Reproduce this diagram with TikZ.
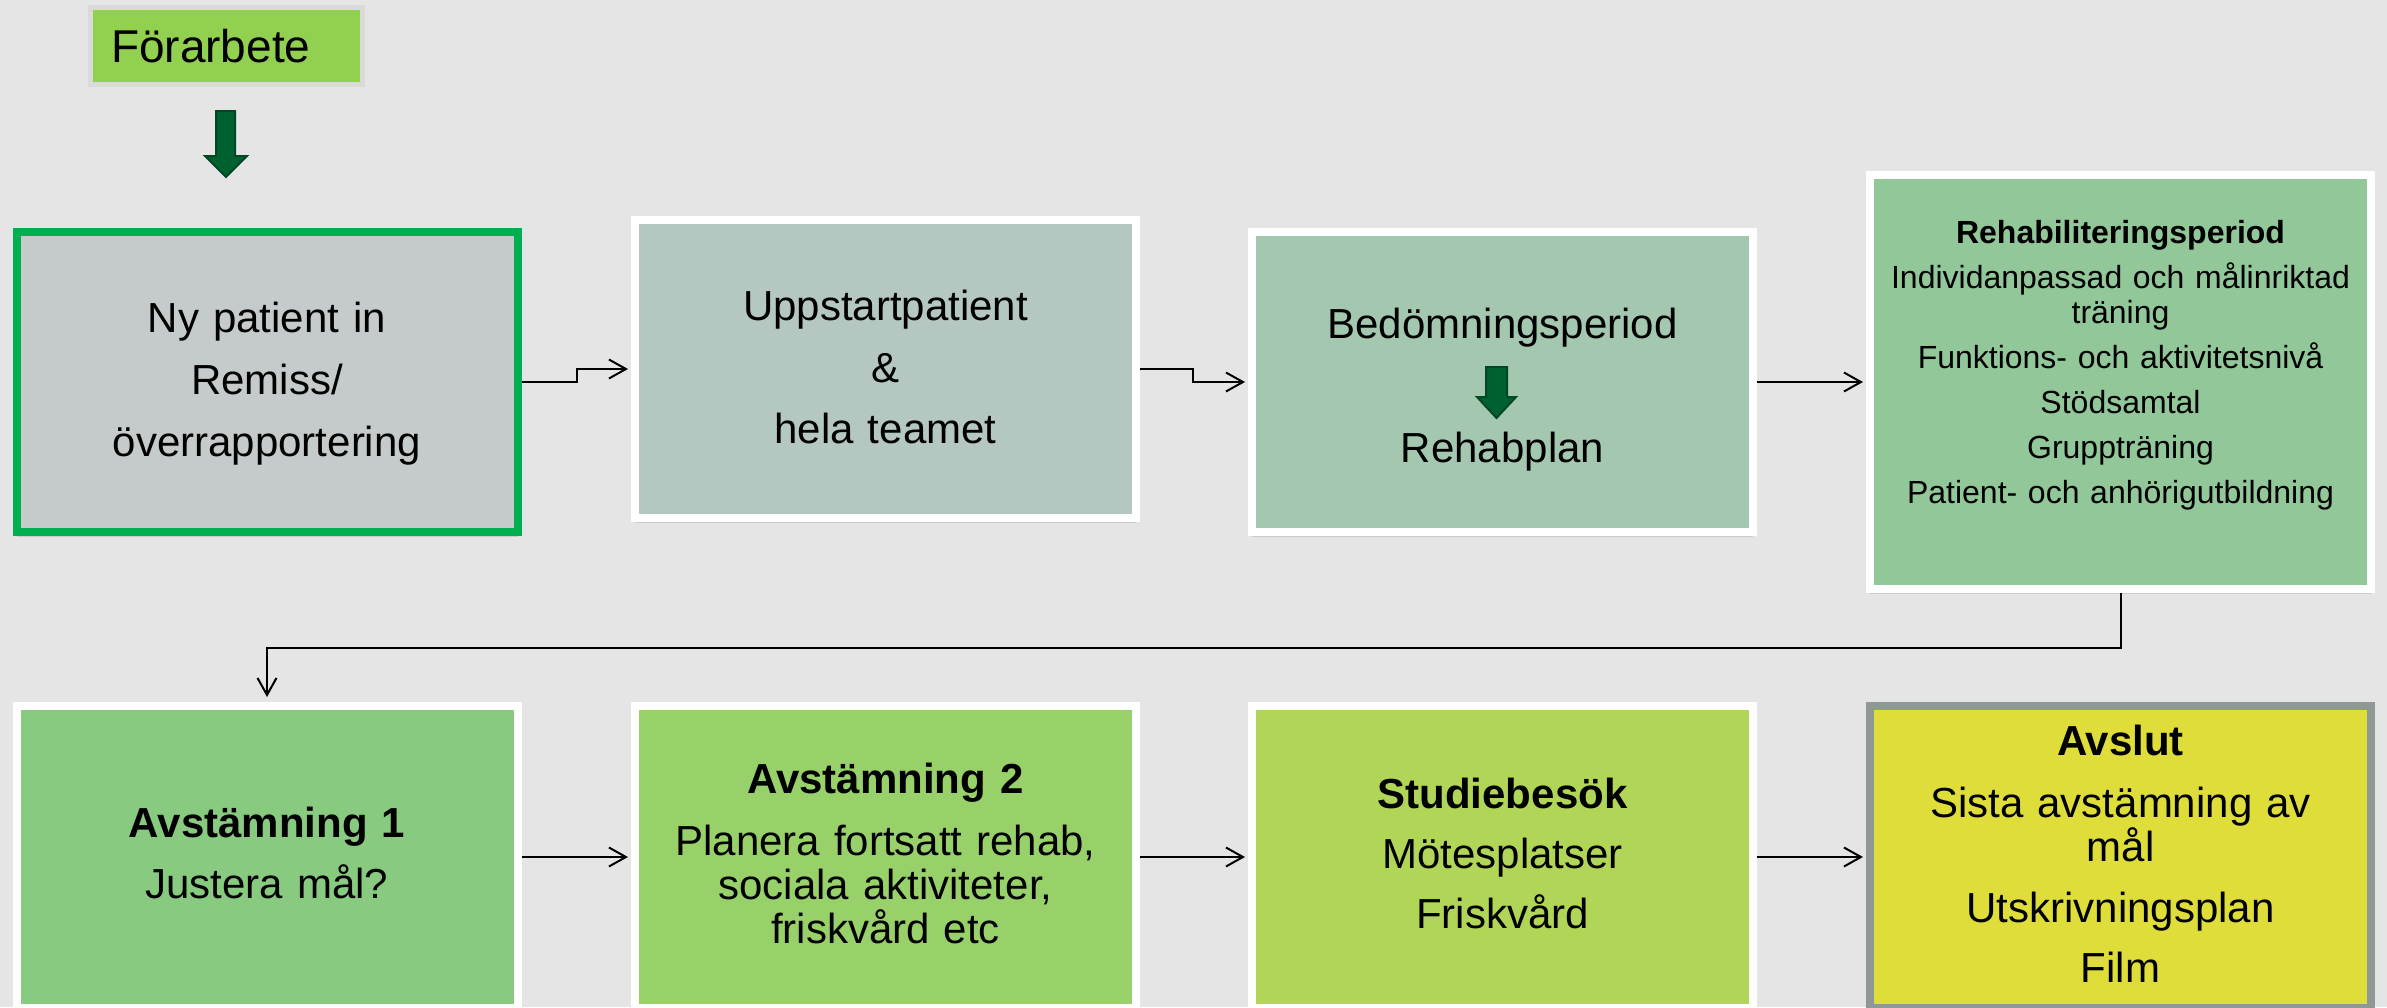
\documentclass[tikz,border=0pt]{standalone}
\usepackage{fontspec}
\setmainfont{Liberation Sans}
\usetikzlibrary{arrows.meta,shadows,calc}
\definecolor{bg}{RGB}{229,229,229}
\definecolor{c0}{RGB}{146,208,80}
\definecolor{c0frame}{RGB}{218,218,218}
\definecolor{c1}{RGB}{197,202,202}
\definecolor{c1frame}{RGB}{0,176,80}
\definecolor{c2}{RGB}{180,199,193}
\definecolor{c3}{RGB}{164,199,175}
\definecolor{c4}{RGB}{146,199,153}
\definecolor{c5}{RGB}{136,202,127}
\definecolor{c6}{RGB}{152,208,106}
\definecolor{c7}{RGB}{177,214,87}
\definecolor{c8}{RGB}{222,221,58}
\definecolor{c8frame}{RGB}{142,152,151}
\definecolor{arrowfill}{RGB}{0,97,48}
\definecolor{arrowline}{RGB}{0,72,36}
\begin{document}
\begin{tikzpicture}[x=1pt,y=-1pt,
  box/.style={rectangle, draw=white, line width=8pt, minimum width=501pt, inner sep=0pt,
    drop shadow={opacity=0.25, shadow xshift=0pt, shadow yshift=-5pt}},
  txt/.style={text width=495pt, align=center, inner sep=0pt, anchor=base, font=\fontsize{42}{44}\selectfont},
  smalltxt/.style={txt, font=\fontsize{32}{35}\selectfont},
  conn/.style={draw=black, line width=2pt, -{Straight Barb[length=17pt,width=19pt]}, shorten >=3pt},
  blockarrow/.style={fill=arrowfill, draw=arrowline, line width=2pt, line join=miter}
]
\fill[bg] (0,0) rectangle (2387,1007);
\useasboundingbox (0,0) rectangle (2387,1007);

% Förarbete
\node[rectangle, draw=c0frame, fill=c0, line width=5pt, minimum width=272pt, minimum height=77pt,
      inner sep=0pt, text width=230pt, align=left, font=\fontsize{46}{48}\selectfont] (fa) at (226,46) {Förarbete};
\filldraw[blockarrow] (216,111) -- (235,111) -- (235,156) -- (247,156) -- (226,177) -- (205,156) -- (216,156) -- cycle;

% top row
\node[box, draw=c1frame, fill=c1, minimum height=300pt] (b1) at (267,382) {};
\node[box, fill=c2, minimum height=298pt] (b2) at (885.5,369) {};
\node[box, fill=c3, minimum height=300pt] (b3) at (1502.5,382) {};
\node[box, fill=c4, minimum height=414pt] (b4) at (2120.5,382) {};
% bottom row
\node[box, fill=c5, minimum height=302pt] (b5) at (267,857) {};
\node[box, fill=c6, minimum height=302pt] (b6) at (885.5,857) {};
\node[box, fill=c7, minimum height=302pt] (b7) at (1502.5,857) {};
\node[box, draw=c8frame, fill=c8, minimum height=302pt] (b8) at (2120.5,857) {};

% texts
\node[txt] (t1) at (267,332) {Ny patient in\\[18pt]Remiss/\\[18pt]överrapportering};
\node[txt] (t2) at (885.5,320) {Uppstartpatient\\[18pt]\&\\[17pt]hela teamet};
\node[txt] (t3) at (1502.5,338) {Bedömningsperiod\\[80pt]Rehabplan};
\filldraw[blockarrow] (1486,367) -- (1507,367) -- (1507,397) -- (1516,397) -- (1496.5,418) -- (1477,397) -- (1486,397) -- cycle;
\node[smalltxt] (t4) at (2120.5,243) {\textbf{Rehabiliteringsperiod}\\[10pt]Individanpassad och målinriktad\\träning\\[10pt]Funktions- och aktivitetsnivå\\[10pt]Stödsamtal\\[10pt]Gruppträning\\[10pt]Patient- och anhörigutbildning};
\node[txt] (t5) at (267,837) {\textbf{Avstämning 1}\\[17pt]Justera mål?};
\node[txt] (t6) at (885.5,793) {\textbf{Avstämning 2}\\[18pt]Planera fortsatt rehab,\\sociala aktiviteter,\\friskvård etc};
\node[txt] (t7) at (1502.5,808) {\textbf{Studiebesök}\\[16pt]Mötesplatser\\[16pt]Friskvård};
\node[txt] (t8) at (2120.5,755) {\textbf{Avslut}\\[18pt]Sista avstämning av\\mål\\[17pt]Utskrivningsplan\\[16pt]Film};

% connectors
\draw[conn] (b1.east) -- ++(55,0) |- (b2.west);
\draw[conn] (b2.east) -- ++(53,0) |- (b3.west);
\draw[conn] (b3.east) -- (b4.west);
\draw[conn, shorten >=5pt] (b4.south) -- ++(0,55) -| (b5.north);
\draw[conn] (b5.east) -- (b6.west);
\draw[conn] (b6.east) -- (b7.west);
\draw[conn] (b7.east) -- (b8.west);
\end{tikzpicture}
\end{document}
